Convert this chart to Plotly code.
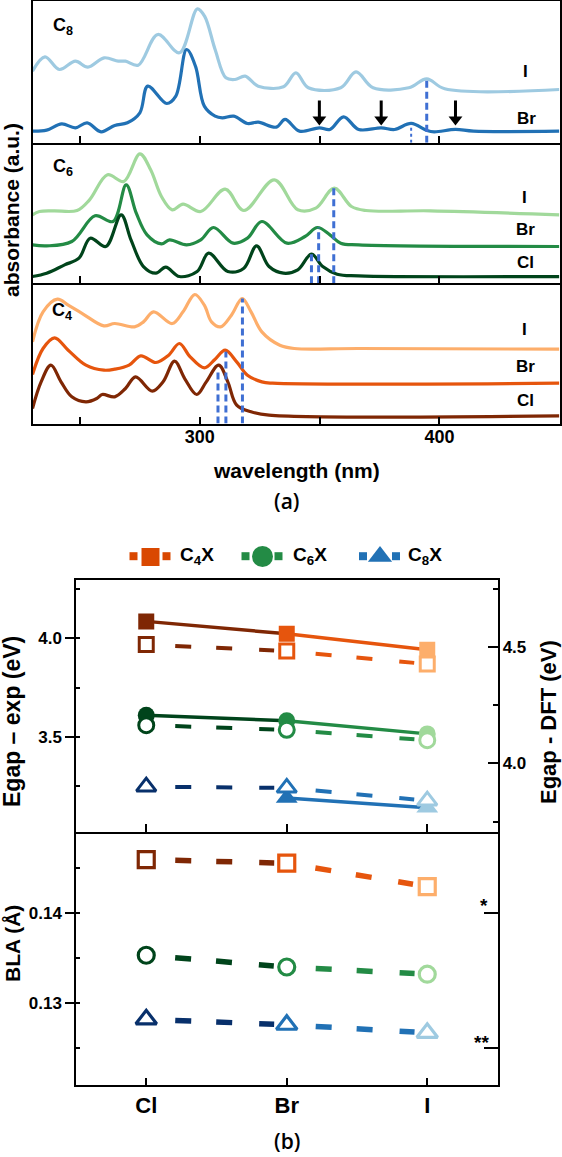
import plotly.graph_objects as go

W, H = 562, 1157
def px(x): return x / W
def py(y): return 1 - y / H

FONT = "Liberation Sans"
DASHBLUE = "#3F6FD3"

# ---------------- (a) absorption spectra ----------------
wl_range = [230.2, 450.1]

C8_I_nm = [230.2, 235.4, 241.4, 248.1, 253.3, 260.1, 266.0, 269.0, 274.3, 282.5, 291.5, 299.0, 302.0,
           306.4, 310.9, 314.7, 318.9, 324.4, 334.9, 340.1, 345.3, 358.8, 365.2, 372.3, 387.2, 394.7,
           402.2, 450.0]
C8_I_abs = [2.15, 2.58, 2.20, 2.45, 2.27, 2.55, 2.45, 2.45, 2.33, 3.25, 2.70, 4.02, 3.80,
            2.80, 1.95, 1.90, 2.00, 1.70, 1.68, 2.10, 1.65, 1.65, 2.13, 1.65, 1.65, 1.92,
            1.62, 1.60]
C8_Br_nm = [230.2, 236.1, 242.4, 248.1, 253.0, 258.8, 264.5, 269.8, 275.0, 278.3, 286.2, 290.0,
            294.5, 298.2, 301.9, 306.4, 309.4, 314.2, 319.9, 324.4, 331.9, 335.6, 341.6, 349.9,
            354.3, 360.0, 366.3, 375.7, 381.3, 388.2, 394.8, 397.8, 406.7, 414.2, 450.0]
C8_Br_abs = [0.35, 0.38, 0.57, 0.45, 0.60, 0.33, 0.52, 0.60, 0.90, 1.70, 1.18, 1.40,
             2.80, 2.30, 1.10, 0.80, 0.75, 0.80, 0.58, 0.62, 0.47, 0.70, 0.35, 0.45,
             0.40, 0.78, 0.40, 0.45, 0.40, 0.58, 0.37, 0.33, 0.40, 0.35, 0.35]

C6_I_nm = [230.2, 233.1, 239.1, 248.8, 254.0, 261.5, 268.3, 275.0, 279.5, 284.0, 288.5, 293.0,
           300.4, 310.6, 318.4, 331.1, 340.9, 348.4, 356.1, 363.3, 369.3, 396.3, 450.0]
C6_I_abs = [2.05, 2.15, 2.17, 2.18, 2.50, 3.25, 3.05, 3.88, 3.40, 2.60, 2.20, 2.37,
            2.15, 2.82, 2.18, 3.10, 2.20, 2.25, 2.85, 2.30, 2.18, 2.17, 2.05]
C6_Br_nm = [230.2, 236.1, 246.6, 256.3, 263.8, 269.3, 273.5, 278.0, 284.0, 287.4, 294.5, 300.4,
            305.7, 313.9, 319.9, 325.9, 336.4, 343.9, 349.1, 354.3, 358.8, 366.3, 450.0]
C6_Br_abs = [1.15, 1.12, 1.25, 2.02, 1.85, 2.95, 2.10, 1.45, 1.18, 1.30, 1.15, 1.30,
             1.67, 1.20, 1.35, 1.85, 1.20, 1.40, 1.67, 1.45, 1.20, 1.15, 1.10]
C6_Cl_nm = [230.2, 236.1, 243.6, 249.6, 254.3, 260.8, 267.2, 271.3, 276.5, 281.7, 285.8, 291.5,
            298.9, 303.7, 311.7, 318.4, 323.7, 328.9, 334.9, 340.9, 346.6, 351.3, 357.3, 366.3, 450.0]
C6_Cl_abs = [0.20, 0.30, 0.55, 0.75, 1.35, 1.10, 2.05, 1.30, 0.50, 0.30, 0.48, 0.20,
             0.35, 0.90, 0.35, 0.45, 1.12, 0.50, 0.30, 0.40, 0.87, 0.50, 0.27, 0.22, 0.20]

C4_I_nm = [230.2, 234.6, 240.6, 245.1, 251.0, 260.0, 264.5, 272.8, 276.5, 280.7, 288.5, 293.0,
           297.9, 301.9, 304.9, 308.7, 313.2, 317.7, 321.4, 325.9, 333.4, 339.4, 366.3, 450.0]
C4_I_abs = [2.45, 3.35, 3.73, 3.55, 3.30, 2.93, 3.00, 2.90, 3.05, 3.35, 3.00, 3.35,
            3.87, 3.55, 3.05, 2.90, 3.25, 3.75, 3.35, 2.75, 2.35, 2.25, 2.25, 2.23]
C4_Br_nm = [230.2, 234.6, 239.4, 245.1, 252.5, 260.0, 264.5, 270.5, 275.4, 281.7, 287.0, 291.5,
            296.0, 301.9, 306.4, 310.6, 315.4, 319.9, 325.9, 330.4, 450.0]
C4_Br_abs = [1.47, 2.25, 2.57, 2.20, 1.75, 1.60, 1.63, 1.75, 2.03, 1.83, 2.05, 2.40,
             2.00, 1.67, 1.93, 2.20, 1.85, 1.45, 1.25, 1.21, 1.21]
C4_Cl_nm = [230.2, 233.8, 237.9, 242.1, 246.6, 252.5, 257.0, 259.3, 264.5, 269.0, 273.2, 280.2,
            284.7, 289.5, 293.7, 298.7, 302.7, 307.9, 311.7, 315.4, 321.4, 328.9, 450.0]
C4_Cl_abs = [0.45, 1.25, 1.75, 1.25, 0.80, 0.65, 0.75, 0.87, 0.80, 1.05, 1.40, 0.97,
             1.25, 1.87, 1.35, 0.87, 1.25, 1.75, 1.25, 0.55, 0.35, 0.25, 0.23]

# absorption-edge markers (dashed verticals): wavelength and height
C8_edge_nm = [394.7, 388.2]
C8_edge_top = [1.92, 0.55]
C6_edge_nm = [346.6, 349.6, 355.9]
C6_edge_top = [0.87, 1.67, 2.85]
C4_edge_nm = [307.6, 310.9, 317.8]
C4_edge_top = [1.55, 2.15, 3.75]
# arrows in the C8 panel: wavelength, tail height, head-centre height
arrow_nm = [349.9, 375.7, 406.7]
arrow_tail = [1.27, 1.27, 1.27]
arrow_head = [0.70, 0.70, 0.70]

# ---------------- (b) band gaps and BLA ----------------
halides = ["Cl", "Br", "I"]
Egap_exp_C4 = [4.086, 4.023, 3.942]
Egap_exp_C6 = [3.610, 3.582, 3.515]
Egap_exp_C8 = [None, 3.190, 3.140]
Egap_dft_C4 = [4.512, 4.484, 4.428]
Egap_dft_C6 = [4.165, 4.145, 4.100]
Egap_dft_C8 = [3.900, 3.895, 3.840]
BLA_C4 = [0.1459, 0.1455, 0.1429]
BLA_C6 = [0.1353, 0.1340, 0.1332]
BLA_C8 = [0.1282, 0.1276, 0.1267]
BLA_ref_vals = [0.140, 0.125]
BLA_ref_text = ["*", "**"]
legend_names = ["C<sub>4</sub>X", "C<sub>6</sub>X", "C<sub>8</sub>X"]

COL = {
    "C4": ["#7F2704", "#E6550D", "#FDAE6B"],
    "C6": ["#00441B", "#238B45", "#A1D99B"],
    "C8": ["#08306B", "#2171B5", "#9ECAE1"],
}
LEG_COL = ["#D94801", "#238B45", "#2171B5"]
SYM = {"C4": "square", "C6": "circle", "C8": "triangle-up"}

fig = go.Figure()

def spec(x, y, color, n):
    fig.add_trace(go.Scatter(x=x, y=y, mode="lines",
                             line=dict(color=color, width=3.2, shape="spline", smoothing=1.0),
                             xaxis="x" + n, yaxis="y" + n, showlegend=False, hoverinfo="skip"))

def edges(nms, tops, n, widths, dashes):
    for nm, top, w, d in zip(nms, tops, widths, dashes):
        fig.add_trace(go.Scatter(x=[nm, nm], y=[0, top], mode="lines",
                                 line=dict(color=DASHBLUE, width=w, dash=d),
                                 xaxis="x" + n, yaxis="y" + n, showlegend=False, hoverinfo="skip"))

# C8 panel -> x/y (n="")
spec(C8_I_nm, C8_I_abs, COL["C8"][2], "")
spec(C8_Br_nm, C8_Br_abs, COL["C8"][1], "")
edges(C8_edge_nm, C8_edge_top, "", [3, 2], ["7px,4px", "3px,3px"])
for nm, t, hd in zip(arrow_nm, arrow_tail, arrow_head):
    fig.add_trace(go.Scatter(x=[nm, nm], y=[t, hd + 0.05], mode="lines",
                             line=dict(color="black", width=3), xaxis="x", yaxis="y",
                             showlegend=False, hoverinfo="skip"))
    fig.add_trace(go.Scatter(x=[nm], y=[hd], mode="markers",
                             marker=dict(symbol="triangle-down", size=12, color="black"),
                             xaxis="x", yaxis="y", showlegend=False, hoverinfo="skip"))
# C6 panel
spec(C6_I_nm, C6_I_abs, COL["C6"][2], "2")
spec(C6_Br_nm, C6_Br_abs, COL["C6"][1], "2")
spec(C6_Cl_nm, C6_Cl_abs, COL["C6"][0], "2")
edges(C6_edge_nm, C6_edge_top, "2", [3, 3, 3], ["7px,4px"] * 3)
# C4 panel
spec(C4_I_nm, C4_I_abs, COL["C4"][2], "3")
spec(C4_Br_nm, C4_Br_abs, COL["C4"][1], "3")
spec(C4_Cl_nm, C4_Cl_abs, COL["C4"][0], "3")
edges(C4_edge_nm, C4_edge_top, "3", [3, 3, 3], ["7px,4px"] * 3)

annotations = []

# ---- (b) lines and markers ----
DASH_SEG = "0px,29px,16px,25px,16px,27px,15px,80px"

def segments(vals, colors, xa, ya, width, dash):
    for i in range(len(vals) - 1):
        if vals[i] is None or vals[i + 1] is None:
            continue
        fig.add_trace(go.Scatter(x=[i, i + 1], y=[vals[i], vals[i + 1]], mode="lines",
                                 line=dict(color=colors[i], width=width, dash=dash),
                                 xaxis=xa, yaxis=ya, showlegend=False, hoverinfo="skip"))

def markers(vals, colors, sym, size, xa, ya, open_=False, lw=3):
    xs = [i for i, v in enumerate(vals) if v is not None]
    ys = [v for v in vals if v is not None]
    cs = [colors[i] for i in xs]
    if open_:
        mk = dict(symbol=sym, size=size, color="white", line=dict(color=cs, width=lw))
    else:
        mk = dict(symbol=sym, size=size, color=cs, line=dict(width=0))
    fig.add_trace(go.Scatter(x=xs, y=ys, mode="markers", marker=mk, xaxis=xa, yaxis=ya,
                             showlegend=False, hoverinfo="skip"))

exp_sets = {"C4": Egap_exp_C4, "C6": Egap_exp_C6, "C8": Egap_exp_C8}
dft_sets = {"C4": Egap_dft_C4, "C6": Egap_dft_C6, "C8": Egap_dft_C8}
bla_sets = {"C4": BLA_C4, "C6": BLA_C6, "C8": BLA_C8}
exp_size = {"C4": 16, "C6": 17, "C8": 19}
dft_size = {"C4": 14, "C6": 15, "C8": 17}
bla_size = {"C4": 16, "C6": 16, "C8": 18}

for ch in ["C4", "C6", "C8"]:
    segments(dft_sets[ch], COL[ch], "x4", "y5", 4, DASH_SEG)
    segments(exp_sets[ch], COL[ch], "x4", "y4", 3.5, "solid")
    segments(bla_sets[ch], COL[ch], "x5", "y6", 5.5, DASH_SEG)
for ch in ["C4", "C6", "C8"]:
    markers(dft_sets[ch], COL[ch], SYM[ch], dft_size[ch], "x4", "y5", open_=True, lw=3)
for ch in ["C4", "C6", "C8"]:
    markers(exp_sets[ch], COL[ch], SYM[ch], exp_size[ch], "x4", "y4")
    markers(bla_sets[ch], COL[ch], SYM[ch], bla_size[ch], "x5", "y6", open_=True, lw=3.2)

# invisible trace to activate the reference axis of the BLA panel
fig.add_trace(go.Scatter(x=[0], y=[BLA_ref_vals[0]], mode="markers", marker=dict(opacity=0),
                         xaxis="x5", yaxis="y7", showlegend=False, hoverinfo="skip"))

# ---- custom legend (pixel overlay axis x6/y8) ----
leg_center_x = [150.5, 262.5, 380.0]
leg_sizes = [18, 21, 21]
leg_syms = ["square", "circle", "triangle-up"]
leg_y = [557.0, 556.5, 556.5]
for cx, sz, sy, ly, c in zip(leg_center_x, leg_sizes, leg_syms, leg_y, LEG_COL):
    fig.add_trace(go.Scatter(x=[cx - 17, cx + 16], y=[556.2, 556.2], mode="markers",
                             marker=dict(symbol="square", size=8, color=c),
                             xaxis="x6", yaxis="y8", showlegend=False, hoverinfo="skip"))
    fig.add_trace(go.Scatter(x=[cx], y=[ly], mode="markers",
                             marker=dict(symbol=sy, size=sz, color=c),
                             xaxis="x6", yaxis="y8", showlegend=False, hoverinfo="skip"))
leg_text_x = [178, 291, 406]
for tx, name in zip(leg_text_x, legend_names):
    annotations.append(dict(x=px(tx), y=py(556), xref="paper", yref="paper", xanchor="left",
                            yanchor="middle", showarrow=False, text="<b>" + name + "</b>",
                            font=dict(family=FONT, size=19, color="black")))

# ---- text labels ----
def label(x, y, text, size=17, angle=0, family=FONT, weight="bold", xanchor="center"):
    annotations.append(dict(x=px(x), y=py(y), xref="paper", yref="paper", xanchor=xanchor,
                            yanchor="middle", showarrow=False, text=text, textangle=angle,
                            font=dict(family=family, size=size, color="black", weight=weight)))

label(63, 26, "C<sub>8</sub>", 18)
label(63, 167, "C<sub>6</sub>", 18)
label(62, 311, "C<sub>4</sub>", 18)
label(525, 72, "I", 17)
label(526, 118, "Br", 17)
label(524, 197, "I", 17)
label(525, 229, "Br", 17)
label(525, 262, "Cl", 17)
label(524, 329, "I", 17)
label(525, 366, "Br", 17)
label(525, 400, "Cl", 17)
label(11, 210, "absorbance (a.u.)", 21, angle=-90)
label(296, 470, "wavelength (nm)", 21)
label(287, 501, "(a)", 21, family="Open Sans", weight=600)
label(287, 1141, "(b)", 21, family="Open Sans", weight=600)
label(12, 722, "Egap – exp (eV)", 23, angle=-90)
label(548, 722, "Egap - DFT (eV)", 22, angle=-90)
label(12, 944, "BLA (Å)", 21, angle=-90)
label(484, 905, BLA_ref_text[0], 19)
label(481, 1042, BLA_ref_text[1], 19)

# ---- axes ----
LW = 1.5
base = dict(showline=True, linecolor="black", linewidth=LW, showgrid=False, zeroline=False,
            tickcolor="black", tickwidth=LW)
tickfont = dict(family=FONT, size=18, color="black", weight="bold")

xa_spec = dict(base, domain=[px(32.5), px(559.5)], range=wl_range, tick0=0, dtick=100,
               ticks="inside", ticklen=7, tickfont=tickfont,
               minor=dict(tick0=0, dtick=50, ticks="inside", ticklen=7, tickcolor="black",
                          tickwidth=LW))
ya_spec = dict(base, showticklabels=False, ticks="", mirror=True)

layout = dict(
    width=W, height=H, margin=dict(l=0, r=0, t=0, b=0), paper_bgcolor="white",
    plot_bgcolor="rgba(0,0,0,0)", showlegend=False, hovermode=False, template="none",
    font=dict(family=FONT, color="black"),
    xaxis=dict(xa_spec, anchor="y", showticklabels=False, mirror=True),
    yaxis=dict(ya_spec, anchor="x", domain=[py(142.8), py(0.5)], range=[0, 4.27]),
    xaxis2=dict(xa_spec, anchor="y2", showticklabels=False, mirror=False),
    yaxis2=dict(ya_spec, anchor="x2", domain=[py(283.2), py(142.8)], range=[0, 4.21]),
    xaxis3=dict(xa_spec, anchor="y3", showticklabels=True, mirror=False,
                ticklabelstandoff=-4),
    yaxis3=dict(ya_spec, anchor="x3", domain=[py(423.5), py(283.2)], range=[0, 4.21]),
    xaxis4=dict(base, anchor="y4", domain=[px(76), px(497.5)], range=[-0.5, 2.5],
                tickmode="array", tickvals=[0, 1, 2], ticks="inside", ticklen=8,
                showticklabels=False, mirror=True),
    yaxis4=dict(base, anchor="x4", domain=[py(832), py(580)], range=[3.017, 4.296],
                tick0=0, dtick=0.5, tickformat=".1f", ticks="outside", ticklen=9,
                tickfont=dict(tickfont, size=17),
                minor=dict(tick0=0, dtick=0.25, ticks="inside", ticklen=4, tickcolor="black",
                           tickwidth=LW)),
    yaxis5=dict(base, anchor="x4", overlaying="y4", side="right", range=[3.705, 4.790],
                tick0=0, dtick=0.5, tickformat=".1f", ticks="inside", ticklen=10,
                tickfont=dict(tickfont, size=17),
                minor=dict(tick0=0, dtick=0.25, ticks="inside", ticklen=5, tickcolor="black",
                           tickwidth=LW)),
    xaxis5=dict(base, anchor="y6", domain=[px(76), px(497.5)], range=[-0.5, 2.5],
                tickmode="array", tickvals=[0, 1, 2], ticktext=halides, ticks="inside",
                ticklen=7, mirror=False, tickfont=dict(tickfont, size=22)),
    yaxis6=dict(base, anchor="x5", domain=[py(1085), py(832)], range=[0.12092, 0.14896],
                tick0=0, dtick=0.01, tickformat=".2f", ticks="outside", ticklen=9,
                tickfont=dict(tickfont, size=17),
                minor=dict(tick0=0, dtick=0.005, ticks="inside", ticklen=4, tickcolor="black",
                           tickwidth=LW)),
    yaxis7=dict(base, anchor="x5", overlaying="y6", side="right", range=[0.12092, 0.14896],
                tickmode="array", tickvals=BLA_ref_vals, ticks="inside", ticklen=14,
                showticklabels=False),
    xaxis6=dict(domain=[0, 1], range=[0, W], visible=False, anchor="y8", fixedrange=True),
    yaxis8=dict(domain=[0, 1], range=[H, 0], visible=False, anchor="x6", fixedrange=True),
    annotations=annotations,
)
fig.update_layout(**layout)
fig.write_html("out.html")
